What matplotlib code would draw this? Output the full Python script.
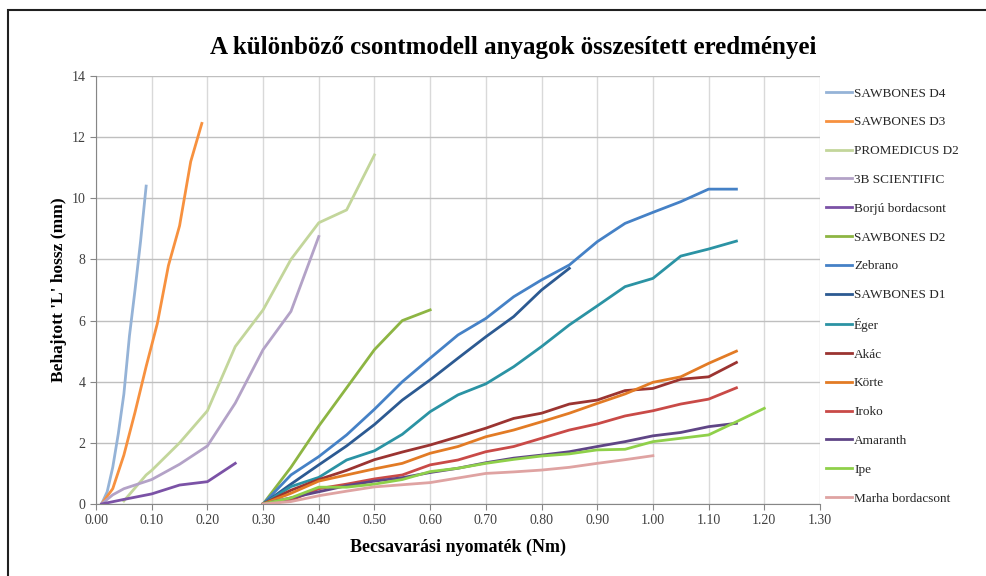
import matplotlib
matplotlib.use('Agg')
import matplotlib.pyplot as plt
from matplotlib.patches import Rectangle

# series data: torque (Nm) vs driven length (mm)
names = ['SAWBONES D4', 'SAWBONES D3', 'PROMEDICUS D2', '3B SCIENTIFIC',
         'Borjú bordacsont', 'SAWBONES D2', 'Zebrano', 'SAWBONES D1', 'Éger',
         'Akác', 'Körte', 'Iroko', 'Amaranth', 'Ipe', 'Marha bordacsont']

colors = ['#95B3D7', '#F7913F', '#C3D69B', '#B3A2C7', '#7B52A6', '#8DB543',
          '#4581C6', '#2C5A92', '#2B93A4', '#9B3431', '#E27B25', '#C94A47',
          '#5F4586', '#8FD04A', '#DFA3A2']

x_d4 = [0.01, 0.02, 0.03, 0.04, 0.05, 0.06, 0.07, 0.08, 0.09]
y_d4 = [0, 0.4, 1.2, 2.3, 3.6, 5.5, 7.0, 8.6, 10.4]

x_d3 = [0.01, 0.03, 0.05, 0.07, 0.09, 0.11, 0.13, 0.15, 0.17, 0.19]
y_d3 = [0, 0.5, 1.6, 3.0, 4.5, 5.9, 7.8, 9.1, 11.2, 12.45]

x_prom = [0.05, 0.09, 0.10, 0.15, 0.20, 0.25, 0.30, 0.35, 0.40, 0.45, 0.50]
y_prom = [0.1, 0.95, 1.1, 2.0, 3.05, 5.15, 6.35, 8.0, 9.2, 9.62, 11.42]

x_3b = [0.01, 0.03, 0.05, 0.10, 0.15, 0.20, 0.25, 0.30, 0.35, 0.40]
y_3b = [0, 0.3, 0.5, 0.8, 1.3, 1.9, 3.3, 5.05, 6.3, 8.75]

x_borju = [0.01, 0.05, 0.10, 0.15, 0.20, 0.25]
y_borju = [0, 0.15, 0.33, 0.62, 0.73, 1.33]

x_d2 = [0.30, 0.35, 0.40, 0.45, 0.50, 0.55, 0.60]
y_d2 = [0, 1.2, 2.55, 3.8, 5.05, 6.0, 6.35]

x_zeb = [0.30, 0.35, 0.40, 0.45, 0.50, 0.55, 0.60, 0.65, 0.70, 0.75, 0.80,
         0.85, 0.90, 0.95, 1.00, 1.05, 1.10, 1.15]
y_zeb = [0, 0.95, 1.55, 2.26, 3.1, 4.0, 4.77, 5.53, 6.07, 6.78, 7.33, 7.82,
         8.58, 9.18, 9.54, 9.89, 10.3, 10.3]

x_d1 = [0.30, 0.35, 0.40, 0.45, 0.50, 0.55, 0.60, 0.65, 0.70, 0.75, 0.80, 0.85]
y_d1 = [0, 0.65, 1.28, 1.9, 2.6, 3.4, 4.06, 4.77, 5.47, 6.13, 7.0, 7.71]

x_eger = x_zeb
y_eger = [0, 0.57, 0.87, 1.44, 1.74, 2.28, 3.02, 3.57, 3.93, 4.49, 5.15,
          5.86, 6.48, 7.11, 7.38, 8.11, 8.34, 8.6]

x_akac = x_zeb
y_akac = [0, 0.45, 0.8, 1.1, 1.45, 1.7, 1.93, 2.2, 2.48, 2.8, 2.97, 3.27,
          3.4, 3.71, 3.78, 4.08, 4.16, 4.63]

x_korte = x_zeb
y_korte = [0, 0.35, 0.75, 0.95, 1.15, 1.33, 1.66, 1.88, 2.2, 2.42, 2.69,
           2.97, 3.29, 3.6, 3.98, 4.16, 4.6, 5.0]

x_iroko = x_zeb
y_iroko = [0, 0.12, 0.5, 0.65, 0.82, 0.95, 1.28, 1.44, 1.71, 1.88, 2.15,
           2.42, 2.62, 2.88, 3.05, 3.27, 3.43, 3.8]

x_amar = x_zeb
y_amar = [0, 0.2, 0.4, 0.6, 0.75, 0.86, 1.03, 1.17, 1.35, 1.5, 1.6, 1.71,
          1.88, 2.04, 2.23, 2.34, 2.53, 2.64]

x_ipe = [0.30, 0.35, 0.40, 0.45, 0.50, 0.55, 0.60, 0.65, 0.70, 0.75, 0.80,
         0.85, 0.90, 0.95, 1.00, 1.05, 1.10, 1.15, 1.20]
y_ipe = [0, 0.2, 0.55, 0.55, 0.65, 0.8, 1.06, 1.17, 1.33, 1.46, 1.57, 1.64,
         1.77, 1.79, 2.04, 2.15, 2.26, 2.69, 3.13]

x_marha = [0.30, 0.35, 0.40, 0.45, 0.50, 0.55, 0.60, 0.65, 0.70, 0.75, 0.80,
           0.85, 0.90, 0.95, 1.00]
y_marha = [0, 0.08, 0.27, 0.42, 0.56, 0.63, 0.7, 0.85, 1.0, 1.05, 1.11,
           1.2, 1.33, 1.45, 1.58]

xs = [x_d4, x_d3, x_prom, x_3b, x_borju, x_d2, x_zeb, x_d1, x_eger,
      x_akac, x_korte, x_iroko, x_amar, x_ipe, x_marha]
ys = [y_d4, y_d3, y_prom, y_3b, y_borju, y_d2, y_zeb, y_d1, y_eger,
      y_akac, y_korte, y_iroko, y_amar, y_ipe, y_marha]

x_ticks = [i / 10 for i in range(14)]
y_ticks = list(range(0, 15, 2))

plt.rcParams['font.family'] = ['Liberation Serif', 'DejaVu Serif']

fig = plt.figure(figsize=(9.86, 5.76), dpi=100)
ax = fig.add_axes([0.0974, 0.125, 0.7342, 0.743])

for x, y, name, c in zip(xs, ys, names, colors):
    ax.plot(x, y, color=c, lw=2.0, label=name, solid_joinstyle='round')

ax.set_xlim(0, 1.3)
ax.set_ylim(0, 14)
ax.set_xticks(x_ticks)
ax.set_xticklabels(['%.2f' % t for t in x_ticks])
ax.set_yticks(y_ticks)
ax.tick_params(axis='both', labelsize=10, colors='#404040', length=4,
               color='#868686')
ax.xaxis.grid(True, color='#D9D9D9', lw=1)
ax.yaxis.grid(True, color='#BFBFBF', lw=1)
ax.set_axisbelow(True)
for s in ['top', 'right']:
    ax.spines[s].set_visible(False)
for s in ['left', 'bottom']:
    ax.spines[s].set_color('#868686')

ax.set_xlabel('Becsavarási nyomaték (Nm)', fontsize=13, fontweight='bold',
              labelpad=8)
ax.set_ylabel("Behajtott 'L' hossz (mm)", fontsize=12.5, fontweight='bold',
              labelpad=3)
fig.text(0.52, 0.918, 'A különböző csontmodell anyagok összesített eredményei',
         ha='center', va='center', fontsize=18, fontweight='bold')

leg = ax.legend(loc='upper left', bbox_to_anchor=(0.996, 0.995), frameon=False,
                fontsize=9.5, labelspacing=1.255, handlelength=1.95,
                handletextpad=0.15, borderaxespad=0.3)
for t in leg.get_texts():
    t.set_color('#262626')

# outer frame of the original chart (cut off on the right and bottom)
fig.patches.append(Rectangle((8 / 986, -0.05), 1.2, (576 - 10) / 576 + 0.05,
                             transform=fig.transFigure, fill=False,
                             edgecolor='#202020', lw=1.5))

fig.savefig('out.png', dpi=100)
